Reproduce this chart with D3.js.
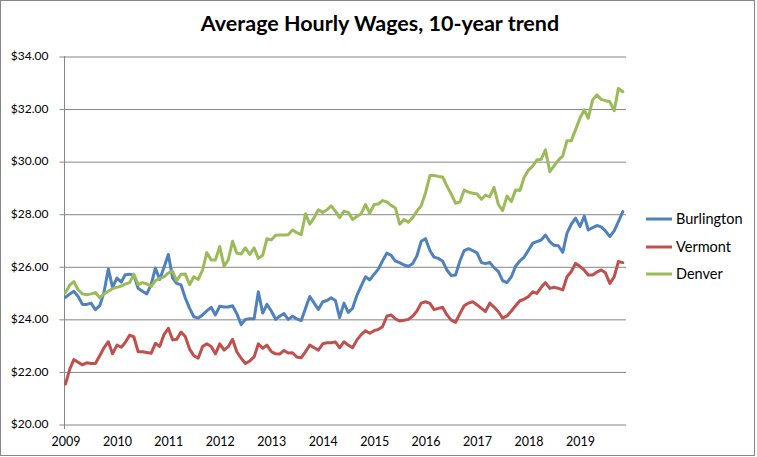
<!DOCTYPE html>
<html>
<head>
<meta charset="utf-8">
<script src="https://cdn.jsdelivr.net/npm/d3@7"></script>
<style>
  html, body { margin: 0; padding: 0; background: #fff; }
  svg { display: block; }
</style>
</head>
<body>
<svg id="chart" width="757" height="457"></svg>
<script>
// ---- Data (monthly, Jan 2009 – Nov 2019) ----
const startMonth = "2009-01";
const seriesNames = ["Burlington", "Vermont", "Denver"];
const burlington = [
  24.82,24.95,25.05,24.85,24.55,24.55,24.6,24.35,24.5,25.0,25.9,25.2,
  25.55,25.4,25.68,25.7,25.65,25.16,25.05,24.95,25.3,25.93,25.5,25.95,
  26.45,25.55,25.35,25.29,24.8,24.4,24.08,24.03,24.15,24.3,24.44,24.15,
  24.48,24.45,24.45,24.5,24.2,23.78,23.98,24.0,24.0,25.03,24.22,24.55,
  24.3,23.98,24.1,24.2,23.98,24.1,24.0,23.93,24.4,24.85,24.6,24.36,
  24.65,24.7,24.8,24.7,24.05,24.6,24.25,24.4,24.9,25.25,25.6,25.48,
  25.7,25.9,26.2,26.5,26.42,26.2,26.14,26.05,26.0,26.1,26.4,26.95,
  27.05,26.6,26.35,26.3,26.2,25.85,25.65,25.67,26.2,26.6,26.67,26.6,
  26.5,26.14,26.1,26.15,25.95,25.8,25.45,25.38,25.6,26.0,26.21,26.35,
  26.62,26.88,26.94,27.0,27.19,26.94,26.8,26.78,26.53,27.26,27.6,27.83,
  27.51,27.91,27.38,27.47,27.55,27.5,27.35,27.13,27.35,27.7,28.08
];
const vermont = [
  21.52,22.1,22.45,22.35,22.25,22.33,22.3,22.3,22.6,22.9,23.13,22.67,
  23.0,22.92,23.1,23.38,23.32,22.75,22.75,22.72,22.69,23.07,22.95,23.4,
  23.64,23.2,23.22,23.5,23.33,22.85,22.6,22.5,22.95,23.05,22.95,22.67,
  23.05,22.81,22.94,23.22,22.75,22.5,22.3,22.4,22.55,23.05,22.88,23.0,
  22.75,22.67,22.66,22.8,22.7,22.71,22.55,22.52,22.75,23.0,22.9,22.81,
  23.05,23.09,23.09,23.12,22.9,23.13,23.0,22.9,23.2,23.4,23.55,23.45,
  23.55,23.6,23.7,24.1,24.15,24.0,23.92,23.95,23.98,24.1,24.3,24.6,
  24.65,24.59,24.35,24.4,24.44,24.15,23.95,23.87,24.2,24.5,24.6,24.65,
  24.53,24.4,24.28,24.6,24.45,24.27,24.03,24.11,24.3,24.5,24.69,24.75,
  24.85,25.03,24.97,25.2,25.38,25.16,25.2,25.16,25.1,25.6,25.8,26.11,
  26.0,25.85,25.67,25.67,25.78,25.86,25.75,25.35,25.6,26.18,26.14
];
const denver = [
  25.0,25.29,25.42,25.1,24.95,24.92,24.95,25.0,24.8,24.95,25.05,25.15,
  25.2,25.25,25.32,25.38,25.7,25.3,25.38,25.33,25.23,25.45,25.54,25.6,
  25.75,25.8,25.45,25.7,25.71,25.3,25.6,25.5,25.85,26.52,26.24,26.24,
  26.75,26.0,26.24,26.95,26.5,26.47,26.7,26.45,26.7,26.3,26.42,27.05,
  27.0,27.18,27.19,27.19,27.2,27.38,27.28,27.2,28.0,27.6,27.85,28.15,
  28.05,28.15,28.3,28.1,27.85,28.1,28.05,27.78,27.9,28.0,28.35,28.02,
  28.35,28.37,28.5,28.45,28.32,28.22,27.6,27.78,27.68,27.85,28.1,28.3,
  28.8,29.45,29.45,29.42,29.4,29.05,28.75,28.4,28.45,28.9,28.82,28.78,
  28.75,28.55,28.7,28.65,29.0,28.35,28.12,28.67,28.46,28.9,28.88,29.39,
  29.66,29.82,30.04,30.07,30.43,29.6,29.82,30.04,30.2,30.78,30.78,31.2,
  31.63,31.95,31.63,32.33,32.52,32.35,32.3,32.26,31.92,32.77,32.64
];
const yTicks = [20, 22, 24, 26, 28, 30, 32, 34];
const xTickYears = [2009,2010,2011,2012,2013,2014,2015,2016,2017,2018,2019];
const colors = ["#4F81BD", "#C0504D", "#9BBB59"];

// ---- Chart ----
const svg = d3.select("#chart");
const font = "Lato, 'Open Sans', sans-serif";
const plot = { left: 64.5, right: 626, top: 56, bottom: 424 };

const parse = d3.timeParse("%Y-%m");
const t0 = parse(startMonth);
const dates = d3.range(burlington.length).map(i => d3.timeMonth.offset(t0, i));

const x = d3.scaleTime()
  .domain([t0, d3.timeMonth.offset(t0, 131)])
  .range([65.5, 627]);
const y = d3.scaleLinear().domain([20, 34]).range([plot.bottom, plot.top]);

// outer border
svg.append("rect")
  .attr("x", 0.5).attr("y", 0.5).attr("width", 754).attr("height", 455)
  .attr("fill", "#fff").attr("stroke", "#868686").attr("stroke-width", 1);

// title
svg.append("text")
  .attr("x", 380).attr("y", 31)
  .attr("text-anchor", "middle")
  .attr("font-family", font).attr("font-weight", "bold").attr("font-size", 21.5)
  .attr("fill", "#000")
  .text("Average Hourly Wages, 10-year trend");

// y gridlines + axis
const yAxis = d3.axisLeft(y)
  .tickValues(yTicks)
  .tickSize(-(plot.right - plot.left))
  .tickSizeOuter(0)
  .tickPadding(16)
  .tickFormat(d => "$" + d3.format(".2f")(d));
const gy = svg.append("g").attr("transform", `translate(${plot.left},0)`).call(yAxis);
gy.select(".domain").remove();
gy.selectAll(".tick line")
  .attr("stroke", "#868686").attr("stroke-width", 1)
  .attr("x1", -5).attr("transform", "translate(0,0.5)");
gy.selectAll(".tick text")
  .attr("font-family", font).attr("font-size", 12).attr("fill", "#000");

// y axis line
svg.append("line")
  .attr("x1", plot.left).attr("x2", plot.left)
  .attr("y1", plot.top).attr("y2", plot.bottom + 0.5)
  .attr("stroke", "#868686").attr("stroke-width", 1);

// x axis
const xAxis = d3.axisBottom(x)
  .tickValues(xTickYears.map(yr => new Date(yr, 0, 1)))
  .tickSize(0)
  .tickSizeOuter(0)
  .tickPadding(13)
  .tickFormat(d3.timeFormat("%Y"));
const gx = svg.append("g").attr("transform", `translate(0,${plot.bottom})`).call(xAxis);
gx.select(".domain").remove();
gx.selectAll(".tick text")
  .attr("font-family", font).attr("font-size", 12.5).attr("fill", "#000");
// small tick at origin
svg.append("line")
  .attr("x1", plot.left).attr("x2", plot.left)
  .attr("y1", plot.bottom).attr("y2", plot.bottom + 5)
  .attr("stroke", "#868686");

// lines
const seriesData = [burlington, vermont, denver];
const line = d3.line()
  .x((d, i) => x(dates[i]))
  .y(d => y(d));
seriesData.forEach((vals, k) => {
  svg.append("path")
    .datum(vals)
    .attr("fill", "none")
    .attr("stroke", colors[k])
    .attr("stroke-width", 3)
    .attr("stroke-linejoin", "round")
    .attr("stroke-linecap", "round")
    .attr("d", line);
});

// legend
const legendY = [219, 247, 274];
seriesNames.forEach((name, k) => {
  const g = svg.append("g").attr("transform", `translate(0,${legendY[k]})`);
  g.append("line")
    .attr("x1", 646).attr("x2", 672).attr("y1", 0).attr("y2", 0)
    .attr("stroke", colors[k]).attr("stroke-width", 3);
  g.append("text")
    .attr("x", 676).attr("y", 0).attr("dy", "0.35em")
    .attr("font-family", font).attr("font-size", 14.5).attr("fill", "#000")
    .text(name);
});
</script>
</body>
</html>
